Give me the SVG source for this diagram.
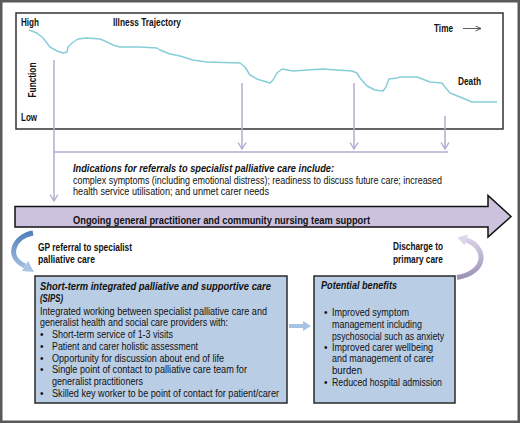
<svg xmlns="http://www.w3.org/2000/svg" width="520" height="423" viewBox="0 0 520 423">
<style>
text{font-family:"Liberation Sans",Arial,sans-serif;fill:#111;}
.r{font-size:10px;}
.b{font-size:10px;font-weight:bold;}
.bi{font-size:10.5px;font-weight:bold;font-style:italic;}
.lav{stroke:#b4aad0;stroke-width:1.5;fill:none;}
</style>
<defs>
<marker id="chev" markerUnits="userSpaceOnUse" markerWidth="10" markerHeight="10" refX="7" refY="4.5" orient="auto">
<path d="M0.5,0.5 L7,4.5 L0.5,8.5" fill="none" stroke="#b4aad0" stroke-width="1.4"/>
</marker>
<marker id="blk" markerUnits="userSpaceOnUse" markerWidth="8" markerHeight="8" refX="6" refY="3" orient="auto">
<path d="M0.5,0.5 L6,3 L0.5,5.5" fill="none" stroke="#333" stroke-width="0.8"/>
</marker>
<linearGradient id="gblue" gradientUnits="userSpaceOnUse" x1="0" y1="231" x2="0" y2="272">
<stop offset="0" stop-color="#4f7fb9"/><stop offset="1" stop-color="#a9c5e6"/>
</linearGradient>
<linearGradient id="gpurp" gradientUnits="userSpaceOnUse" x1="0" y1="236" x2="0" y2="279">
<stop offset="0" stop-color="#ddd6ea"/><stop offset="1" stop-color="#9a90b5"/>
</linearGradient>
</defs>
<rect x="1.25" y="1.25" width="517.5" height="420.5" fill="#fff" stroke="#595959" stroke-width="2.5"/>

<g id="trajectory-chart">
<rect x="16" y="13" width="487" height="116" fill="#fff" stroke="#333" stroke-width="1.5"/>
<text class="b" x="21" y="26" textLength="18" lengthAdjust="spacingAndGlyphs">High</text>
<text class="b" x="113" y="26" textLength="68" lengthAdjust="spacingAndGlyphs">Illness Trajectory</text>
<text class="b" x="21" y="121" textLength="16" lengthAdjust="spacingAndGlyphs">Low</text>
<text class="b" transform="translate(35.5,80) rotate(-90)" text-anchor="middle" textLength="35" lengthAdjust="spacingAndGlyphs">Function</text>
<text class="b" x="434" y="31.5" textLength="19" lengthAdjust="spacingAndGlyphs">Time</text>
<line x1="463" y1="28.5" x2="481" y2="28.5" stroke="#333" stroke-width="0.8" marker-end="url(#blk)"/>
<text class="b" x="458" y="85" textLength="23" lengthAdjust="spacingAndGlyphs">Death</text>
<path d="M29,30 L37,33 L43,38 L50,47 L57,51 L63,53 L67,52 L68,47 L72,43 L78,39 L87,38 L100,39 L107,42 L113,45 L120,47 L140,47 L157,48 L160,50 L170,54 L180,56 L193,60 L207,62 L240,63 L245,67 L250,75 L257,79 L260,80 L270,83 L273,80 L277,73 L282,69 L293,71 L307,70 L323,69 L337,70 L352,71 L357,73 L360,78 L367,86 L375,90 L383,91 L386,87 L389,79 L397,78 L400,77 L417,77 L430,82 L442,83 L445,87 L450,93 L460,97 L472,102 L497,102" fill="none" stroke="#88ced9" stroke-width="1.5" stroke-linejoin="round"/>
</g>

<g id="connectors">
<line class="lav" x1="54" y1="60" x2="54" y2="201" marker-end="url(#chev)"/>
<line class="lav" x1="242" y1="83" x2="242" y2="149" marker-end="url(#chev)"/>
<line class="lav" x1="354" y1="83" x2="354" y2="149" marker-end="url(#chev)"/>
<line class="lav" x1="445" y1="116" x2="445" y2="149" marker-end="url(#chev)"/>
<line class="lav" x1="54" y1="152" x2="448" y2="152"/>
<path d="M33,233 C14,236 5,257 25,266" fill="none" stroke="url(#gblue)" stroke-width="5"/>
<polygon points="22,271 28,261 34,272" fill="#a9c5e6"/>
<path d="M466,240 C486,246 489,272 457,277.5" fill="none" stroke="url(#gpurp)" stroke-width="5"/>
<polygon points="468,234.5 464.5,245.5 457.5,237.5" fill="#ddd6ea"/>
<line x1="289" y1="326" x2="304" y2="326" stroke="#a7c3e3" stroke-width="4"/>
<polygon points="303,321 311,326 303,331" fill="#a7c3e3"/>
</g>

<g id="indications">
<text class="bi" x="73" y="172" textLength="261" lengthAdjust="spacingAndGlyphs">Indications for referrals to specialist palliative care include:</text>
<text class="r" x="73" y="184" textLength="369" lengthAdjust="spacingAndGlyphs">complex symptoms (including emotional distress); readiness to discuss future care; increased</text>
<text class="r" x="73" y="195" textLength="196" lengthAdjust="spacingAndGlyphs">health service utilisation; and unmet carer needs</text>
</g>

<g id="ongoing-support">
<polygon points="15,206.5 488,206.5 488,195.5 511,216.5 488,237 488,227 15,227" fill="#ccc2de" stroke="#111" stroke-width="1.5" stroke-linejoin="miter"/>
<text class="b" x="73" y="224" textLength="297" lengthAdjust="spacingAndGlyphs">Ongoing general practitioner and community nursing team support</text>
</g>

<g id="gp-referral">
<text class="b" x="38" y="250.5" textLength="94" lengthAdjust="spacingAndGlyphs">GP referral to specialist</text>
<text class="b" x="38" y="263" textLength="57" lengthAdjust="spacingAndGlyphs">palliative care</text>
</g>

<g id="discharge">
<text class="b" x="418" y="249.5" text-anchor="middle" textLength="50" lengthAdjust="spacingAndGlyphs">Discharge to</text>
<text class="b" x="418" y="262.5" text-anchor="middle" textLength="50" lengthAdjust="spacingAndGlyphs">primary care</text>
</g>

<g id="sips">
<rect x="35" y="276" width="252" height="127" fill="#b9cde5" stroke="#2a2a2a" stroke-width="1.5"/>
<text class="bi" x="40" y="290" textLength="231" lengthAdjust="spacingAndGlyphs">Short-term integrated palliative and supportive care</text>
<text class="bi" x="40" y="302" textLength="23" lengthAdjust="spacingAndGlyphs">(SIPS)</text>
<text class="r" x="40" y="314.5" textLength="227" lengthAdjust="spacingAndGlyphs">Integrated working between specialist palliative care and</text>
<text class="r" x="40" y="325.5" textLength="188" lengthAdjust="spacingAndGlyphs">generalist health and social care providers with:</text>
<text class="r" x="40" y="337.5">•</text><text class="r" x="52" y="337.5" textLength="121" lengthAdjust="spacingAndGlyphs">Short-term service of 1-3 visits</text>
<text class="r" x="40" y="349.5">•</text><text class="r" x="52" y="349.5" textLength="146" lengthAdjust="spacingAndGlyphs">Patient and carer holistic assessment</text>
<text class="r" x="40" y="361.5">•</text><text class="r" x="52" y="361.5" textLength="172" lengthAdjust="spacingAndGlyphs">Opportunity for discussion about end of life</text>
<text class="r" x="40" y="372.5">•</text><text class="r" x="52" y="372.5" textLength="195" lengthAdjust="spacingAndGlyphs">Single point of contact to palliative care  team for</text>
<text class="r" x="52" y="384.5" textLength="91" lengthAdjust="spacingAndGlyphs">generalist practitioners</text>
<text class="r" x="40" y="396.5">•</text><text class="r" x="52" y="396.5" textLength="227" lengthAdjust="spacingAndGlyphs">Skilled key worker to be point of contact for patient/carer</text>
</g>

<g id="benefits">
<rect x="314" y="276" width="141" height="127" fill="#b9cde5" stroke="#2a2a2a" stroke-width="1.5"/>
<text class="bi" x="321" y="289" textLength="76" lengthAdjust="spacingAndGlyphs">Potential benefits</text>
<text class="r" x="324" y="315.5">•</text><text class="r" x="332" y="315.5" textLength="77" lengthAdjust="spacingAndGlyphs">Improved symptom</text>
<text class="r" x="332" y="327.5" textLength="90" lengthAdjust="spacingAndGlyphs">management including</text>
<text class="r" x="332" y="339.5" textLength="112" lengthAdjust="spacingAndGlyphs">psychosocial such as anxiety</text>
<text class="r" x="324" y="350.5">•</text><text class="r" x="332" y="350.5" textLength="101" lengthAdjust="spacingAndGlyphs">Improved carer wellbeing</text>
<text class="r" x="332" y="361.5" textLength="102" lengthAdjust="spacingAndGlyphs">and management of carer</text>
<text class="r" x="332" y="373.5" textLength="30" lengthAdjust="spacingAndGlyphs">burden</text>
<text class="r" x="324" y="385.5">•</text><text class="r" x="332" y="385.5" textLength="110" lengthAdjust="spacingAndGlyphs">Reduced hospital admission</text>
</g>
</svg>
